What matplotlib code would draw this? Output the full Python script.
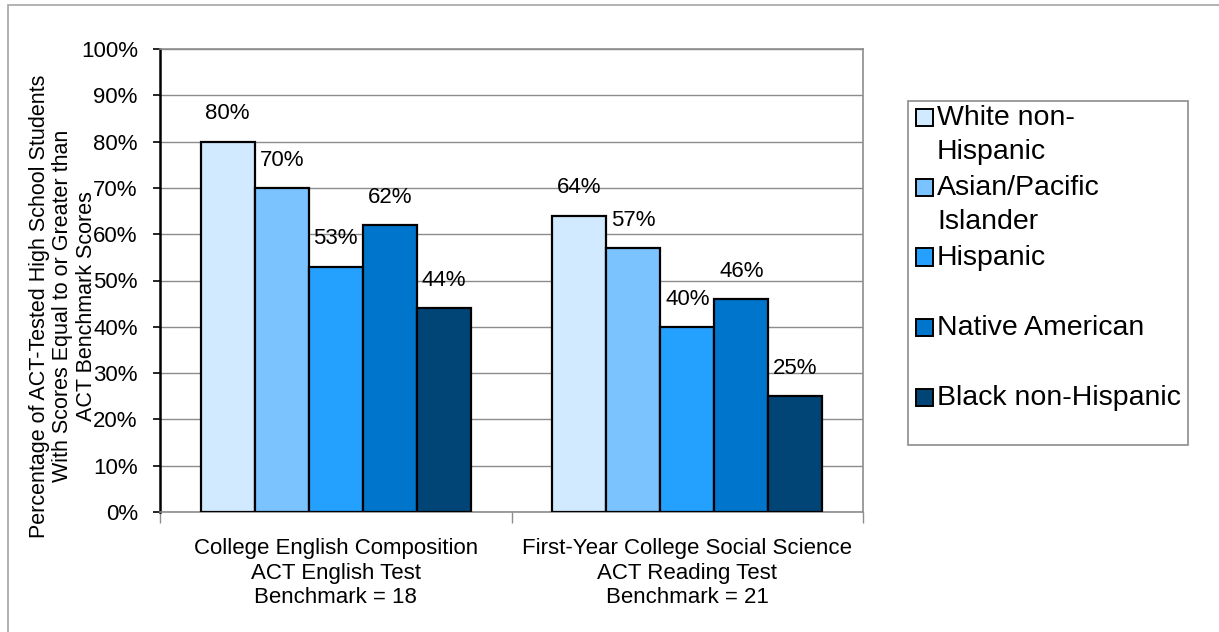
import matplotlib
matplotlib.use("Agg")
import matplotlib.pyplot as plt
from matplotlib.patches import Rectangle
import numpy as np

plt.rcParams['font.family'] = ['Liberation Sans', 'DejaVu Sans']

categories = ["College English Composition\nACT English Test\nBenchmark = 18",
              "First-Year College Social Science\nACT Reading Test\nBenchmark = 21"]
series = ["White non-\nHispanic", "Asian/Pacific\nIslander", "Hispanic",
          "Native American", "Black non-Hispanic"]
english_values = [80, 70, 53, 62, 44]
reading_values = [64, 57, 40, 46, 25]
colors = ["#D1EAFF", "#7BC3FF", "#24A0FF", "#0075CC", "#014476"]
y_ticks = [0, 10, 20, 30, 40, 50, 60, 70, 80, 90, 100]
y_label = ("Percentage of ACT-Tested High School Students\n"
           "With Scores Equal to or Greater than\nACT Benchmark Scores")

W, H = 1219, 632
fig = plt.figure(figsize=(W / 100, H / 100), dpi=100)


def fx(px):
    return px / W


def fy(py):
    return 1 - py / H


# outer border
fig.patches.append(Rectangle((fx(8), fy(H + 10)), fx(W + 20 - 8), fy(5) - fy(H + 10),
                             transform=fig.transFigure, fill=False,
                             edgecolor="#A6A6A6", linewidth=1.2))

L, R, T, B = 160, 863, 49, 512
ax = fig.add_axes([fx(L), fy(B), fx(R - L), fy(T) - fy(B)])

values = np.array([english_values, reading_values])  # shape (cat, series)
n_series = len(series)
bar_w = 1 / (n_series + 1.5)
cat_centers = np.arange(len(categories)) + 0.5

for i in range(n_series):
    xs = cat_centers + (i - (n_series - 1) / 2) * bar_w
    vals = values[:, i] / 100
    ax.bar(xs, vals, width=bar_w, color=colors[i], edgecolor="black",
           linewidth=1.6, zorder=3)
    for x, v in zip(xs, vals):
        ax.annotate(f"{int(round(v * 100))}%", (x, v), xytext=(0, 20),
                    textcoords="offset points", ha="center", va="center",
                    fontsize=16, color="black", zorder=4)

ax.set_xlim(0, len(categories))
ax.set_ylim(0, 1)
ax.set_yticks(np.array(y_ticks) / 100)
ax.set_yticklabels([f"{t}%" for t in y_ticks], fontsize=16)
ax.yaxis.grid(True, color="#8C8C8C", linewidth=1.0, zorder=0)
ax.set_axisbelow(True)

ax.set_xticks(np.arange(len(categories) + 1))
ax.set_xticklabels([])
ax.set_xticks(cat_centers, minor=True)
ax.set_xticklabels(categories, minor=True, fontsize=16, linespacing=1.22)
ax.tick_params(axis="x", which="major", length=8, width=1, color="#8C8C8C", direction="out")
ax.tick_params(axis="x", which="minor", length=0, pad=19)
ax.tick_params(axis="y", length=5, width=1.2, color="black", direction="out", pad=11)

ax.spines["left"].set_color("black")
ax.spines["left"].set_linewidth(1.8)
ax.spines["bottom"].set_color("#8C8C8C")
ax.spines["bottom"].set_linewidth(1.2)
for s in ("top", "right"):
    ax.spines[s].set_color("#8C8C8C")
    ax.spines[s].set_linewidth(1.2)

fig.text(fx(63), fy(306), y_label, rotation=90, ha="center", va="center",
         fontsize=15.5, linespacing=1.18, multialignment="center")

# legend
lx0, ly0, lx1, ly1 = 908, 101, 1188, 445
fig.patches.append(Rectangle((fx(lx0), fy(ly1)), fx(lx1 - lx0), fy(ly0) - fy(ly1),
                             transform=fig.transFigure, fill=True, facecolor="white",
                             edgecolor="#8C8C8C", linewidth=1.2))
msz = 17
for i, (name, c) in enumerate(zip(series, colors)):
    cy = 117 + 70 * i
    fig.patches.append(Rectangle((fx(916), fy(cy + msz / 2)), fx(msz), fy(cy - msz / 2) - fy(cy + msz / 2),
                                 transform=fig.transFigure, facecolor=c,
                                 edgecolor="black", linewidth=1.4))
    for k, line in enumerate(name.split("\n")):
        fig.text(fx(937), fy(cy + 1 + 34 * k), line, ha="left", va="center",
                 fontsize=20.5, color="black")

fig.savefig("out.png", dpi=100, facecolor="white")
